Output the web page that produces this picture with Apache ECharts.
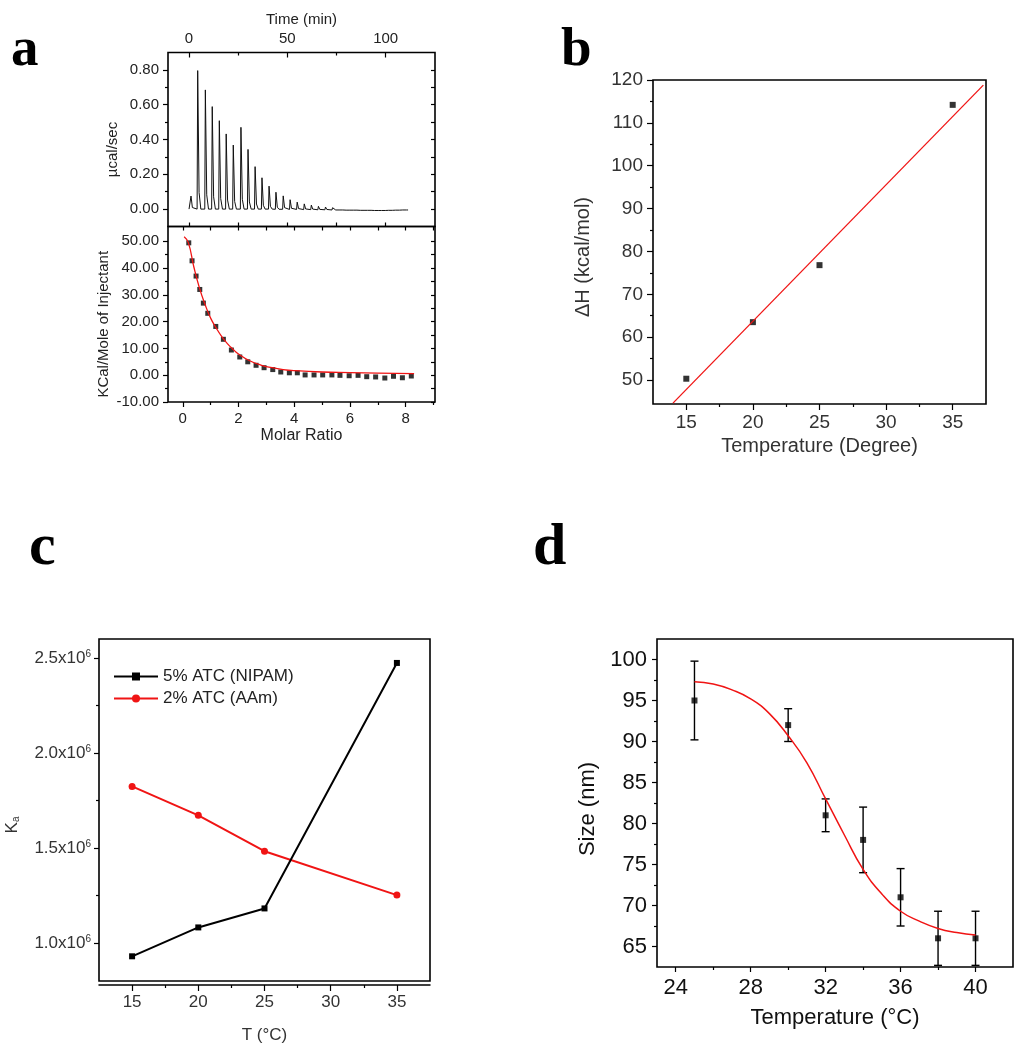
<!DOCTYPE html>
<html>
<head>
<meta charset="utf-8">
<script src="https://cdn.jsdelivr.net/npm/echarts@6/dist/echarts.min.js"></script>
<style>
html,body{margin:0;padding:0;background:#fff;}
#chart{width:1016px;height:1050px;}
</style>
</head>
<body>
<div id="chart"></div>
<script>
// ---------- Panel a (top): ITC thermogram, read peak by peak ----------
const itcTime = [1.0, 4.4, 8.3, 11.8, 15.4, 18.9, 22.5, 26.4, 30.0, 33.6, 37.1, 40.7, 44.2, 47.9, 51.4, 55.0,
                 58.6, 62.2, 65.8, 69.4, 73.0, 76.6, 80.2, 83.8, 87.4, 91.0, 94.6, 98.2, 101.8, 105.4, 109.0];
const itcPeak = [0.075, 0.796, 0.685, 0.589, 0.508, 0.432, 0.368, 0.470, 0.343, 0.244, 0.180, 0.132, 0.098, 0.077, 0.056, 0.042,
                 0.033, 0.026, 0.020, 0.016, 0.013, 0.011, 0.010, 0.009, 0.008, 0.008, 0.007, 0.007, 0.006, 0.007, 0.006];
const itcBase = [0.000, 0.000, 0.000, 0.000, 0.000, 0.000, 0.000, 0.000, 0.000, 0.000, 0.000, 0.000, -0.001, -0.001, -0.002, -0.002,
                 -0.003, -0.003, -0.004, -0.004, -0.005, -0.005, -0.006, -0.006, -0.007, -0.007, -0.008, -0.008, -0.007, -0.006, -0.005];
const itcEnd = 111.4;

// ---------- Panel a (bottom): integrated heats ----------
const molarRatio = [0.215, 0.333, 0.477, 0.610, 0.739, 0.897, 1.184, 1.457, 1.744, 2.045, 2.332, 2.630, 2.917, 3.229, 3.516,
                    3.824, 4.11, 4.39, 4.71, 5.02, 5.35, 5.64, 5.97, 6.29, 6.60, 6.92, 7.25, 7.56, 7.88, 8.20];
const heatPerMol = [49.4, 42.7, 37.0, 32.0, 26.9, 23.1, 18.2, 13.4, 9.4, 6.8, 5.0, 3.7, 2.8, 2.1, 1.2,
                    0.9, 0.9, 0.1, 0.1, 0.1, 0.1, -0.05, -0.2, -0.05, -0.55, -0.65, -1.05, -0.4, -0.95, -0.3];
const fitMolar = [0.05, 0.2, 0.4, 0.6, 0.8, 1.0, 1.2, 1.4, 1.6, 1.8, 2.0, 2.4, 2.8, 3.2, 3.6, 4.0, 5.0, 6.0, 7.0, 8.3];
const fitHeat  = [51.7, 49.5, 40.3, 32.5, 26.4, 21.3, 17.6, 14.4, 11.8, 9.7, 7.9, 5.4, 3.8, 2.8, 2.1, 1.7, 1.2, 1.0, 0.8, 0.6];

// ---------- Panel b ----------
const tempB = [15, 20, 25, 35];
const deltaH = [50.3, 63.5, 76.8, 114.2];
const fitTempB = [14.0, 37.3];
const fitDeltaH = [44.6, 118.8];

// ---------- Panel c ----------
const tempC = [15, 20, 25, 35];
const kaNIPAM = [0.930e6, 1.082e6, 1.182e6, 2.474e6];
const kaAAm = [1.824e6, 1.672e6, 1.483e6, 1.252e6];
const seriesNamesC = ['5% ATC (NIPAM)', '2% ATC (AAm)'];

// ---------- Panel d ----------
const tempD = [25, 30, 32, 34, 36, 38, 40];
const sizeD = [95.0, 92.0, 81.0, 78.0, 71.0, 66.0, 66.0];
const sizeErr = [4.8, 2.0, 2.0, 4.0, 3.5, 3.3, 3.3];
const fitTempD = [25, 26, 27, 28, 29, 30, 31, 32, 33, 34, 35, 36, 37, 38, 39, 40];
const fitSizeD = [97.3, 97.0, 96.3, 95.2, 93.4, 90.7, 87.4, 83.0, 78.6, 74.4, 71.4, 69.3, 68.1, 67.2, 66.7, 66.4];

// ---------- tick / label values ----------
const ticksTime = [0, 50, 100], ticksTimeMinor = [25, 75];
const ticksUcal = [0, 0.2, 0.4, 0.6, 0.8], ticksUcalMinor = [0.1, 0.3, 0.5, 0.7];
const ticksMolar = [0, 2, 4, 6, 8], ticksMolarMinor = [1, 3, 5, 7, 9];
const ticksHeat = [-10, 0, 10, 20, 30, 40, 50], ticksHeatMinor = [-5, 5, 15, 25, 35, 45];
const ticksTB = [15, 20, 25, 30, 35], ticksTBMinor = [17.5, 22.5, 27.5, 32.5];
const ticksDH = [50, 60, 70, 80, 90, 100, 110, 120], ticksDHMinor = [55, 65, 75, 85, 95, 105, 115];
const ticksKa = [1.0e6, 1.5e6, 2.0e6, 2.5e6], ticksKaMinor = [1.25e6, 1.75e6, 2.25e6];
const ticksTD = [24, 28, 32, 36, 40], ticksTDMinor = [26, 30, 34, 38];
const ticksSize = [65, 70, 75, 80, 85, 90, 95, 100], ticksSizeMinor = [67.5, 72.5, 77.5, 82.5, 87.5, 92.5, 97.5];

// ---------- build ----------
const FONT = '"Liberation Sans", Arial, sans-serif';
const RED = '#f01414';
const xAxes = [], yAxes = [];
function addAxis(list, o) {
  list.push({
    type: 'value', gridIndex: o.grid, position: o.pos, min: o.min, max: o.max, offset: o.offset || 0,
    axisLine: { show: !!o.line, onZero: false, lineStyle: { color: '#000', width: 1.5 } },
    splitLine: { show: false },
    axisTick: { show: !!o.ticks, customValues: o.ticks || [], inside: !!o.inside, length: o.len || 5,
                lineStyle: { color: '#000', width: 1.2 } },
    axisLabel: o.labels ? { show: true, customValues: o.labels, formatter: o.fmt, margin: o.margin || 8,
                fontFamily: FONT, fontSize: o.fs, color: o.color || '#222', rich: o.rich } : { show: false },
    name: o.name || '', nameLocation: 'middle', nameGap: o.nameGap || 0,
    nameTextStyle: { fontFamily: FONT, fontSize: o.nfs || o.fs || 14, color: o.color || '#222',
                     padding: o.npad || 0, rich: o.nrich },
    z: 5
  });
  return list.length - 1;
}
const f2 = v => v.toFixed(2);

// grid 0: a top
const aTX = addAxis(xAxes, { grid: 0, pos: 'top', min: -10.7, max: 125.1, ticks: ticksTime, inside: true, len: 5,
  labels: ticksTime, fs: 15, margin: 6, name: 'Time (min)', nfs: 15, nameGap: 25 });
addAxis(xAxes, { grid: 0, pos: 'top', min: -10.7, max: 125.1, ticks: ticksTimeMinor, inside: true, len: 3 });
addAxis(xAxes, { grid: 0, pos: 'bottom', min: -10.7, max: 125.1, ticks: ticksTime.concat(ticksTimeMinor), inside: true, len: 4 });
const aTY = addAxis(yAxes, { grid: 0, pos: 'left', min: -0.1, max: 0.9, ticks: ticksUcal, len: 5,
  labels: ticksUcal, fmt: f2, fs: 15, margin: 9, name: 'µcal/sec', nfs: 15, nameGap: 48, npad: [0, 20, 0, 0] });
addAxis(yAxes, { grid: 0, pos: 'left', min: -0.1, max: 0.9, ticks: ticksUcalMinor, len: 3 });
addAxis(yAxes, { grid: 0, pos: 'right', min: -0.1, max: 0.9, ticks: ticksUcal.concat(ticksUcalMinor), inside: true, len: 4 });

// grid 1: a bottom
const aBX = addAxis(xAxes, { grid: 1, pos: 'bottom', min: -0.53, max: 9.05, ticks: ticksMolar, len: 5,
  labels: ticksMolar, fs: 15, margin: 9, name: 'Molar Ratio', nfs: 16, nameGap: 26 });
addAxis(xAxes, { grid: 1, pos: 'bottom', min: -0.53, max: 9.05, ticks: ticksMolarMinor, len: 3 });
addAxis(xAxes, { grid: 1, pos: 'top', min: -0.53, max: 9.05, ticks: ticksMolar.concat(ticksMolarMinor), inside: true, len: 4 });
const aBY = addAxis(yAxes, { grid: 1, pos: 'left', min: -10, max: 55.5, ticks: ticksHeat, len: 5,
  labels: ticksHeat, fmt: f2, fs: 15, margin: 9, name: 'KCal/Mole of Injectant', nfs: 15, nameGap: 57, npad: [0, 20, 0, 0] });
addAxis(yAxes, { grid: 1, pos: 'left', min: -10, max: 55.5, ticks: ticksHeatMinor, len: 3 });
addAxis(yAxes, { grid: 1, pos: 'right', min: -10, max: 55.5, ticks: ticksHeat.concat(ticksHeatMinor), inside: true, len: 4 });

// grid 2: b
const bX = addAxis(xAxes, { grid: 2, pos: 'bottom', min: 12.5, max: 37.5, ticks: ticksTB, len: 6,
  labels: ticksTB, fs: 19, margin: 9, color: '#333', name: 'Temperature (Degree)', nfs: 20, nameGap: 32 });
addAxis(xAxes, { grid: 2, pos: 'bottom', min: 12.5, max: 37.5, ticks: ticksTBMinor, len: 3 });
const bY = addAxis(yAxes, { grid: 2, pos: 'left', min: 44.4, max: 120, ticks: ticksDH, len: 6,
  labels: ticksDH, fs: 19, margin: 10, color: '#333', name: 'ΔH (kcal/mol)', nfs: 20, nameGap: 60, npad: [0, 30, 0, 0] });
addAxis(yAxes, { grid: 2, pos: 'left', min: 44.4, max: 120, ticks: ticksDHMinor, len: 3 });

// grid 3: c
const cX = addAxis(xAxes, { grid: 3, pos: 'bottom', min: 12.5, max: 37.5, offset: 4, line: true, ticks: ticksTB, len: 6,
  labels: ticksTB, fs: 17, margin: 9, color: '#333', name: 'T (°C)', nfs: 17, nameGap: 42 });
addAxis(xAxes, { grid: 3, pos: 'bottom', min: 12.5, max: 37.5, offset: 4, ticks: ticksTBMinor, len: 3 });
const cY = addAxis(yAxes, { grid: 3, pos: 'left', min: 0.8e6, max: 2.6e6, ticks: ticksKa, len: 5,
  labels: ticksKa, fs: 17, margin: 8, color: '#333',
  fmt: v => '{m|' + (v / 1e6).toFixed(1) + 'x10}{s|6}',
  rich: { m: { fontFamily: FONT, fontSize: 17, color: '#333' },
          s: { fontFamily: FONT, fontSize: 10, color: '#333', verticalAlign: 'top' } },
  name: '{k|K}{s|a}', nfs: 17, nameGap: 78, npad: [0, 30, 0, 0],
  nrich: { k: { fontFamily: FONT, fontSize: 17, color: '#333' },
           s: { fontFamily: FONT, fontSize: 10, color: '#333', verticalAlign: 'bottom' } } });
addAxis(yAxes, { grid: 3, pos: 'left', min: 0.8e6, max: 2.6e6, ticks: ticksKaMinor, len: 3 });

// grid 4: d
const dX = addAxis(xAxes, { grid: 4, pos: 'bottom', min: 23, max: 42, ticks: ticksTD, len: 5,
  labels: ticksTD, fs: 22, margin: 10, color: '#111', name: 'Temperature (°C)', nfs: 22, nameGap: 40 });
addAxis(xAxes, { grid: 4, pos: 'bottom', min: 23, max: 42, ticks: ticksTDMinor, len: 3 });
const dY = addAxis(yAxes, { grid: 4, pos: 'left', min: 62.5, max: 102.5, ticks: ticksSize, len: 5,
  labels: ticksSize, fs: 22, margin: 10, color: '#111', name: 'Size (nm)', nfs: 22, nameGap: 58, npad: [0, 12, 0, 0] });
addAxis(yAxes, { grid: 4, pos: 'left', min: 62.5, max: 102.5, ticks: ticksSizeMinor, len: 3 });

// thermogram polyline built from the read peaks
const itcLine = [[0, itcBase[0]]];
itcTime.forEach((t, i) => {
  const b = itcBase[i], h = itcPeak[i];
  itcLine.push([t - 0.3, b], [t, b + h], [t + 0.7, b + 0.12 * h], [t + 1.6, b]);
});
itcLine.push([itcEnd, itcBase[itcBase.length - 1]]);

const zip = (a, b) => a.map((v, i) => [v, b[i]]);
const gridBase = { show: true, borderColor: '#000', borderWidth: 1.6, backgroundColor: 'transparent', containLabel: false };

const option = {
  animation: false,
  backgroundColor: '#fff',
  grid: [
    Object.assign({ left: 168, top: 52.5, width: 267, height: 174 }, gridBase),
    Object.assign({ left: 168, top: 226.5, width: 267, height: 175.5 }, gridBase),
    Object.assign({ left: 653, top: 80, width: 333, height: 324 }, gridBase),
    Object.assign({ left: 99, top: 639, width: 331, height: 342 }, gridBase),
    Object.assign({ left: 657, top: 639, width: 356, height: 328 }, gridBase)
  ],
  xAxis: xAxes,
  yAxis: yAxes,
  legend: {
    data: seriesNamesC, left: 108, top: 663, orient: 'vertical', itemWidth: 44, itemHeight: 10, itemGap: 5,
    textStyle: { fontFamily: FONT, fontSize: 17, color: '#222' }
  },
  graphic: [
    { type: 'text', x: 11, y: 51, style: { text: 'a', font: 'bold 55px "Liberation Serif"', fill: '#000', textAlign: 'left', textVerticalAlign: 'middle' } },
    { type: 'text', x: 561, y: 51, style: { text: 'b', font: 'bold 55px "Liberation Serif"', fill: '#000', textAlign: 'left', textVerticalAlign: 'middle' } },
    { type: 'text', x: 29, y: 548, style: { text: 'c', font: 'bold 60px "Liberation Serif"', fill: '#000', textAlign: 'left', textVerticalAlign: 'middle' } },
    { type: 'text', x: 533, y: 548, style: { text: 'd', font: 'bold 60px "Liberation Serif"', fill: '#000', textAlign: 'left', textVerticalAlign: 'middle' } }
  ],
  series: [
    { type: 'line', xAxisIndex: aTX, yAxisIndex: aTY, data: itcLine, showSymbol: false, symbol: 'none',
      lineStyle: { color: '#111', width: 1 }, z: 3 },
    { type: 'scatter', xAxisIndex: aBX, yAxisIndex: aBY, data: zip(molarRatio, heatPerMol), symbol: 'rect', symbolSize: 5,
      itemStyle: { color: '#000' }, z: 3 },
    { type: 'line', xAxisIndex: aBX, yAxisIndex: aBY, data: zip(fitMolar, fitHeat), smooth: true,
      showSymbol: false, symbol: 'none', lineStyle: { color: RED, width: 1.3 }, z: 4 },
    { type: 'scatter', xAxisIndex: bX, yAxisIndex: bY, data: zip(tempB, deltaH), symbol: 'rect', symbolSize: 6,
      itemStyle: { color: '#000' }, z: 3 },
    { type: 'line', xAxisIndex: bX, yAxisIndex: bY, data: zip(fitTempB, fitDeltaH), showSymbol: false, symbol: 'none',
      lineStyle: { color: RED, width: 1.3 }, z: 4 },
    { name: seriesNamesC[0], type: 'line', xAxisIndex: cX, yAxisIndex: cY, data: zip(tempC, kaNIPAM), symbol: 'rect', symbolSize: 6,
      lineStyle: { color: '#000', width: 2 }, itemStyle: { color: '#000' }, z: 4 },
    { name: seriesNamesC[1], type: 'line', xAxisIndex: cX, yAxisIndex: cY, data: zip(tempC, kaAAm), symbol: 'circle', symbolSize: 7,
      lineStyle: { color: RED, width: 2 }, itemStyle: { color: RED }, z: 3 },
    { type: 'custom', xAxisIndex: dX, yAxisIndex: dY,
      data: tempD.map((t, i) => [t, sizeD[i] - sizeErr[i], sizeD[i] + sizeErr[i]]),
      encode: { x: 0, y: [1, 2] },
      renderItem: function (params, api) {
        const x = api.value(0);
        const lo = api.coord([x, api.value(1)]);
        const hi = api.coord([x, api.value(2)]);
        const w = 4;
        const st = { stroke: '#000', lineWidth: 1.4 };
        return { type: 'group', children: [
          { type: 'line', shape: { x1: hi[0], y1: hi[1], x2: lo[0], y2: lo[1] }, style: st },
          { type: 'line', shape: { x1: hi[0] - w, y1: hi[1], x2: hi[0] + w, y2: hi[1] }, style: st },
          { type: 'line', shape: { x1: lo[0] - w, y1: lo[1], x2: lo[0] + w, y2: lo[1] }, style: st }
        ] };
      }, z: 3 },
    { type: 'scatter', xAxisIndex: dX, yAxisIndex: dY, data: zip(tempD, sizeD), symbol: 'rect', symbolSize: 6,
      itemStyle: { color: '#000' }, z: 4 },
    { type: 'line', xAxisIndex: dX, yAxisIndex: dY, data: zip(fitTempD, fitSizeD), smooth: 0.5,
      showSymbol: false, symbol: 'none', lineStyle: { color: RED, width: 1.5 }, z: 5 }
  ]
};

const chart = echarts.init(document.getElementById('chart'), null, { renderer: 'canvas' });
chart.setOption(option);
</script>
</body>
</html>
